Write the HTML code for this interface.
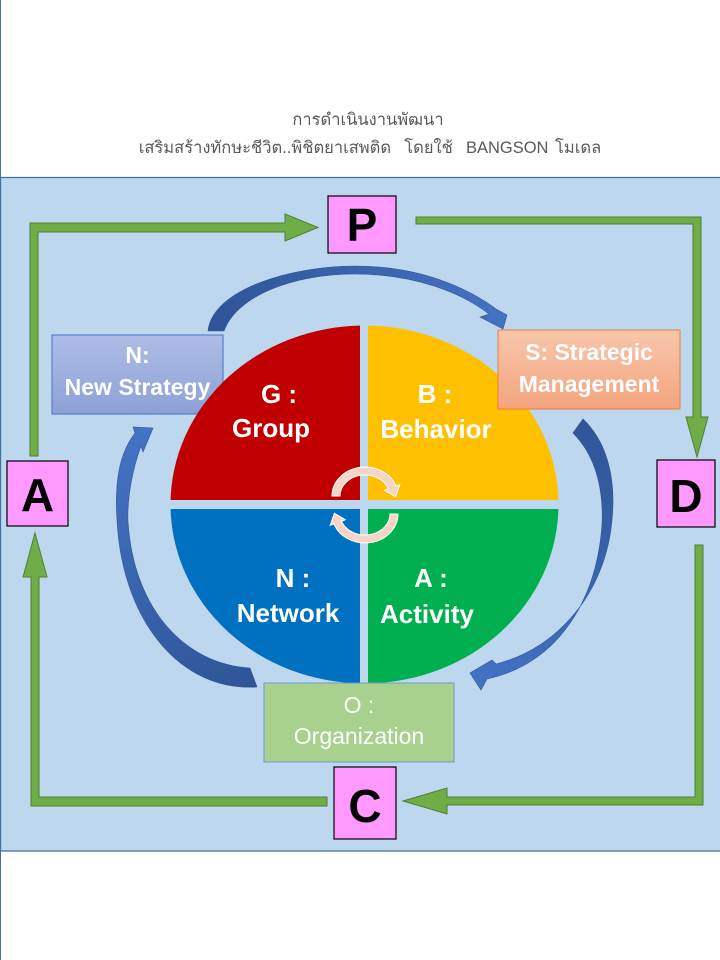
<!DOCTYPE html>
<html>
<head>
<meta charset="utf-8">
<style>
  html,body{margin:0;padding:0;background:#fff;}
  svg{display:block;}
  .thai{font-family:"Liberation Sans","DejaVu Sans",sans-serif;}
  .lat{font-family:"Liberation Sans",sans-serif;}
</style>
</head>
<body>
<svg width="720" height="960" viewBox="0 0 720 960" xmlns="http://www.w3.org/2000/svg">
  <defs>
    <linearGradient id="gN" x1="0" y1="0" x2="0" y2="1">
      <stop offset="0" stop-color="#AEBDE6"/>
      <stop offset="1" stop-color="#8DA1D8"/>
    </linearGradient>
    <linearGradient id="gS" x1="0" y1="0" x2="0" y2="1">
      <stop offset="0" stop-color="#F8C6AB"/>
      <stop offset="1" stop-color="#F4A47E"/>
    </linearGradient>
    <linearGradient id="bTop" gradientUnits="userSpaceOnUse" x1="208" y1="300" x2="507" y2="300">
      <stop offset="0" stop-color="#2F5597"/>
      <stop offset="1" stop-color="#4472C4"/>
    </linearGradient>
    <linearGradient id="bRight" gradientUnits="userSpaceOnUse" x1="590" y1="419" x2="480" y2="690">
      <stop offset="0" stop-color="#2F5597"/>
      <stop offset="1" stop-color="#4472C4"/>
    </linearGradient>
    <linearGradient id="bLeft" gradientUnits="userSpaceOnUse" x1="257" y1="687" x2="150" y2="427">
      <stop offset="0" stop-color="#2F5597"/>
      <stop offset="1" stop-color="#4472C4"/>
    </linearGradient>
  </defs>

  <!-- page -->
  <rect x="0" y="0" width="720" height="960" fill="#FFFFFF"/>
  <line x1="0.5" y1="0" x2="0.5" y2="960" stroke="#41719C" stroke-width="1"/>

  <!-- title -->
  <text class="thai" x="368" y="125" font-size="16.5" fill="#595959" text-anchor="middle">การดำเนินงานพัฒนา</text>
  <text class="thai" x="370" y="153" font-size="16.5" word-spacing="2" fill="#595959" text-anchor="middle" xml:space="preserve">เสริมสร้างทักษะชีวิต..พิชิตยาเสพติด  โดยใช้  BANGSON โมเดล</text>

  <!-- band -->
  <rect x="0" y="177" width="720" height="674" fill="#BDD7EE"/>
  <line x1="0" y1="177.5" x2="720" y2="177.5" stroke="#41719C" stroke-width="1.3"/>
  <line x1="0" y1="851" x2="720" y2="851" stroke="#41719C" stroke-width="1.3"/>
  <line x1="0.5" y1="177" x2="0.5" y2="851" stroke="#41719C" stroke-width="1.3"/>

  <!-- green PDCA arrows -->
  <g fill="#70AD47" stroke="#507E32" stroke-width="1">
    <polygon points="30,456 30,223 285,223 285,214 318,227.5 285,241 285,232 38,232 38,456"/>
    <polygon points="416,217 701,217 701,417 708,417 697,457 686,417 693,417 693,224 416,224"/>
    <polygon points="695,545 703,545 703,805 447,805 447,814 403,801 447,788 447,797 695,797"/>
    <polygon points="327,797 327,806 31,806 31,577 23,577 35,533 47,577 39,577 39,797"/>
  </g>

  <!-- pink boxes -->
  <g fill="#FF99FF" stroke="#000" stroke-width="1.2">
    <rect x="328" y="196" width="68" height="57"/>
    <rect x="7" y="461" width="61" height="65"/>
    <rect x="657" y="460" width="58" height="67"/>
    <rect x="334" y="767" width="62" height="72"/>
  </g>
  <g class="lat" font-size="46" font-weight="bold" fill="#000" text-anchor="middle">
    <text x="362" y="241">P</text>
    <text x="37.5" y="511">A</text>
    <text x="686" y="512">D</text>
    <text x="365" y="822">C</text>
  </g>

  <!-- blue curved arrows -->
  <path d="M 208,331 C 212,290 290,266 355,266 C 420,266 468,288 496,309 L 507,315 L 503,329 L 480,317 L 489,314 C 462,293 415,274 355,274 C 295,274 237,295 224,331 Z" fill="url(#bTop)" stroke="#2F5597" stroke-width="0.6"/>
  <path d="M 583,419 C 608,443 616,480 612,520 C 606,590 560,648 496,664 L 492,660 L 470,673 L 481,690 L 487,679 C 555,664 596,605 602,525 C 604,482 592,452 573,433 Z" fill="url(#bRight)" stroke="#2F5597" stroke-width="0.6"/>
  <path d="M 257,687 C 180,692 122,620 117,520 C 114,475 122,450 135,433 L 133,427 L 153,428 L 143,452 L 141,446 C 132,470 127,500 128,522 C 134,610 185,664 250,668 Z" fill="url(#bLeft)" stroke="#2F5597" stroke-width="0.6"/>

  <!-- N box (under circle) -->
  <rect x="52" y="335" width="171" height="79" fill="url(#gN)" stroke="#4472C4" stroke-width="1"/>
  <g class="lat" font-size="23" font-weight="bold" fill="#FFFFFF" text-anchor="middle">
    <text x="137.5" y="363">N:</text>
    <text x="137.5" y="395">New Strategy</text>
  </g>

  <!-- pie -->
  <path d="M 364.5,504.5 L 170.5,504.5 A 194 179 0 0 1 364.5,325.5 Z" fill="#C00000"/>
  <path d="M 364.5,504.5 L 364.5,325.5 A 194 179 0 0 1 558.5,504.5 Z" fill="#FFC000"/>
  <path d="M 364.5,504.5 L 558.5,504.5 A 194 179 0 0 1 364.5,683.5 Z" fill="#00B050"/>
  <path d="M 364.5,504.5 L 364.5,683.5 A 194 179 0 0 1 170.5,504.5 Z" fill="#0070C0"/>
  <rect x="360" y="320" width="8" height="368" fill="#BDD7EE"/>
  <rect x="165" y="500" width="400" height="9" fill="#BDD7EE"/>

  <!-- center cycle arrows -->
  <g fill="#F6D5C6" stroke="#FFFFFF" stroke-width="1">
    <path d="M 332,496 A 33 29 0 0 1 396,486.1 L 399.8,484.7 L 395.6,496.8 L 384.7,490.2 L 388.5,488.8 A 25 21 0 0 0 340,496 Z"/>
    <path transform="rotate(180 365 505)" d="M 332,496 A 33 29 0 0 1 396,486.1 L 399.8,484.7 L 395.6,496.8 L 384.7,490.2 L 388.5,488.8 A 25 21 0 0 0 340,496 Z"/>
  </g>

  <!-- pie labels -->
  <g class="lat" font-size="26" font-weight="bold" fill="#FFFFFF" text-anchor="middle" xml:space="preserve">
    <text x="279" y="403">G  :</text>
    <text x="271" y="437">Group</text>
    <text x="435" y="403">B  :</text>
    <text x="436" y="438">Behavior</text>
    <text x="293" y="587">N :</text>
    <text x="288" y="622">Network</text>
    <text x="431" y="587">A :</text>
    <text x="427" y="623">Activity</text>
  </g>

  <!-- S box -->
  <rect x="498" y="330" width="182" height="79" fill="url(#gS)" stroke="#ED7D31" stroke-width="1"/>
  <g class="lat" font-size="23" font-weight="bold" fill="#FFFFFF" text-anchor="middle">
    <text x="589" y="360">S: Strategic</text>
    <text x="589" y="392">Management</text>
  </g>

  <!-- O box -->
  <rect x="264" y="683" width="190" height="79" fill="#A9D18E" stroke="#6A9BC8" stroke-width="1"/>
  <g class="lat" font-size="23" fill="#FFFFFF" text-anchor="middle">
    <text x="359" y="713">O :</text>
    <text x="359" y="744">Organization</text>
  </g>
</svg>
</body>
</html>
